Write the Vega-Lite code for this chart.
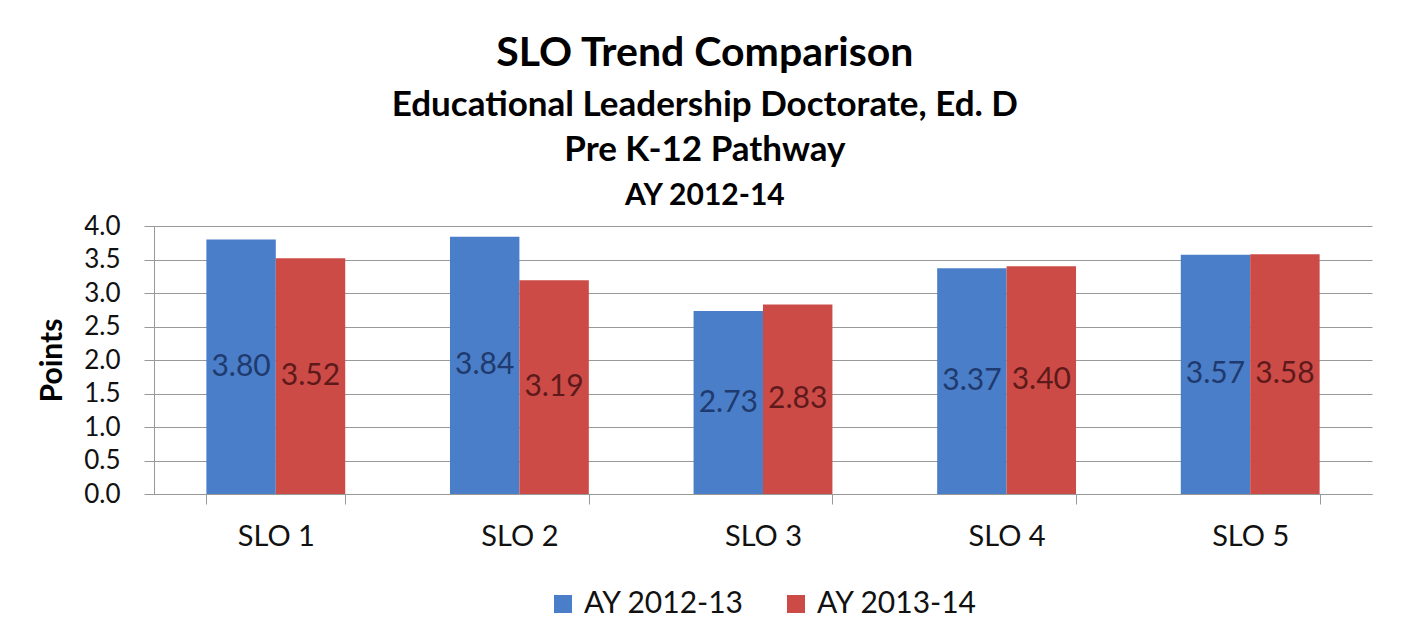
{
  "$schema": "https://vega.github.io/schema/vega-lite/v6.json",
  "padding": {"left": 37, "right": 20, "top": 33, "bottom": 16},
  "background": "white",
  "title": {
    "text": "SLO Trend Comparison",
    "subtitle": ["Educational Leadership Doctorate, Ed. D", "Pre K-12 Pathway"],
    "font": "Lato",
    "fontSize": 41,
    "fontWeight": "bold",
    "color": "#000000",
    "subtitleFont": "Lato",
    "subtitleFontSize": 35,
    "subtitleFontWeight": "bold",
    "subtitleColor": "#000000",
    "subtitleLineHeight": 45,
    "subtitlePadding": 13,
    "anchor": "middle",
    "frame": "bounds",
    "offset": 12
  },
  "config": {
    "view": {"stroke": null},
    "font": "Lato",
    "legend": {"layout": {"bottom": {"anchor": "middle"}}}
  },
  "data": {
    "values": [
      {"slo": "SLO 1", "year": "AY 2012-13", "value": 3.80},
      {"slo": "SLO 1", "year": "AY 2013-14", "value": 3.52},
      {"slo": "SLO 2", "year": "AY 2012-13", "value": 3.84},
      {"slo": "SLO 2", "year": "AY 2013-14", "value": 3.19},
      {"slo": "SLO 3", "year": "AY 2012-13", "value": 2.73},
      {"slo": "SLO 3", "year": "AY 2013-14", "value": 2.83},
      {"slo": "SLO 4", "year": "AY 2012-13", "value": 3.37},
      {"slo": "SLO 4", "year": "AY 2013-14", "value": 3.40},
      {"slo": "SLO 5", "year": "AY 2012-13", "value": 3.57},
      {"slo": "SLO 5", "year": "AY 2013-14", "value": 3.58}
    ]
  },
  "vconcat": [
    {
      "width": 1218,
      "height": 268,
      "title": {
        "text": "AY 2012-14",
        "font": "Lato",
        "fontSize": 30,
        "fontWeight": "bold",
        "color": "#000000",
        "anchor": "middle",
        "frame": "bounds",
        "offset": 2
      },
      "encoding": {
        "x": {
          "field": "slo",
          "type": "nominal",
          "sort": null,
          "scale": {"paddingInner": 0.43, "paddingOuter": 0.215},
          "axis": {
            "title": null,
            "labelAngle": 0,
            "labelFont": "Lato",
            "labelFontSize": 29,
            "labelColor": "#111111",
            "labelPadding": 18,
            "tickBand": "extent",
            "tickSize": 10,
            "tickColor": "#999999",
            "domainColor": "#999999",
            "grid": false
          }
        },
        "xOffset": {"field": "year", "type": "nominal", "sort": null, "scale": {"paddingInner": 0, "paddingOuter": 0}}
      },
      "layer": [
        {
          "mark": {"type": "bar"},
          "encoding": {
            "y": {
              "field": "value",
              "type": "quantitative",
              "scale": {"domain": [0, 4]},
              "axis": {
                "title": "Points",
                "titleFont": "Lato",
                "titleFontSize": 30,
                "titleFontWeight": "bold",
                "titleColor": "#000000",
                "titlePadding": 16,
                "values": [0, 0.5, 1, 1.5, 2, 2.5, 3, 3.5, 4],
                "format": ".1f",
                "labelOverlap": false,
                "labelFont": "Lato",
                "labelFontSize": 26,
                "labelColor": "#111111",
                "labelPadding": 24,
                "tickSize": 10,
                "tickColor": "#999999",
                "domainColor": "#999999",
                "gridColor": "#999999",
                "gridWidth": 1
              }
            },
            "color": {
              "field": "year",
              "type": "nominal",
              "sort": null,
              "scale": {"domain": ["AY 2012-13", "AY 2013-14"], "range": ["#4A7EC8", "#CD4B47"]},
              "legend": {
                "orient": "bottom",
                "direction": "horizontal",
                "title": null,
                "labelFont": "Lato",
                "labelFontSize": 30,
                "labelColor": "#111111",
                "labelLimit": 400,
                "symbolType": "square",
                "symbolSize": 324,
                "symbolStrokeWidth": 0,
                "columnPadding": 36,
                "labelOffset": 6,
                "offset": 38
              }
            }
          }
        },
        {
          "transform": [{"calculate": "datum.value / 2", "as": "mid"}],
          "mark": {"type": "text", "font": "Lato", "fontSize": 30, "align": "center", "baseline": "middle"},
          "encoding": {
            "y": {
              "field": "mid",
              "type": "quantitative",
              "axis": {
                "title": "Points",
                "titleFont": "Lato",
                "titleFontSize": 30,
                "titleFontWeight": "bold",
                "titleColor": "#000000",
                "titlePadding": 16,
                "values": [0, 0.5, 1, 1.5, 2, 2.5, 3, 3.5, 4],
                "format": ".1f",
                "labelOverlap": false,
                "labelFont": "Lato",
                "labelFontSize": 26,
                "labelColor": "#111111",
                "labelPadding": 24,
                "tickSize": 10,
                "tickColor": "#999999",
                "domainColor": "#999999",
                "gridColor": "#999999",
                "gridWidth": 1
              }
            },
            "text": {"field": "value", "type": "quantitative", "format": ".2f"},
            "color": {
              "condition": {"test": "datum.year === 'AY 2012-13'", "value": "#1F3A6E"},
              "value": "#5E1A1A"
            }
          }
        }
      ]
    }
  ]
}
